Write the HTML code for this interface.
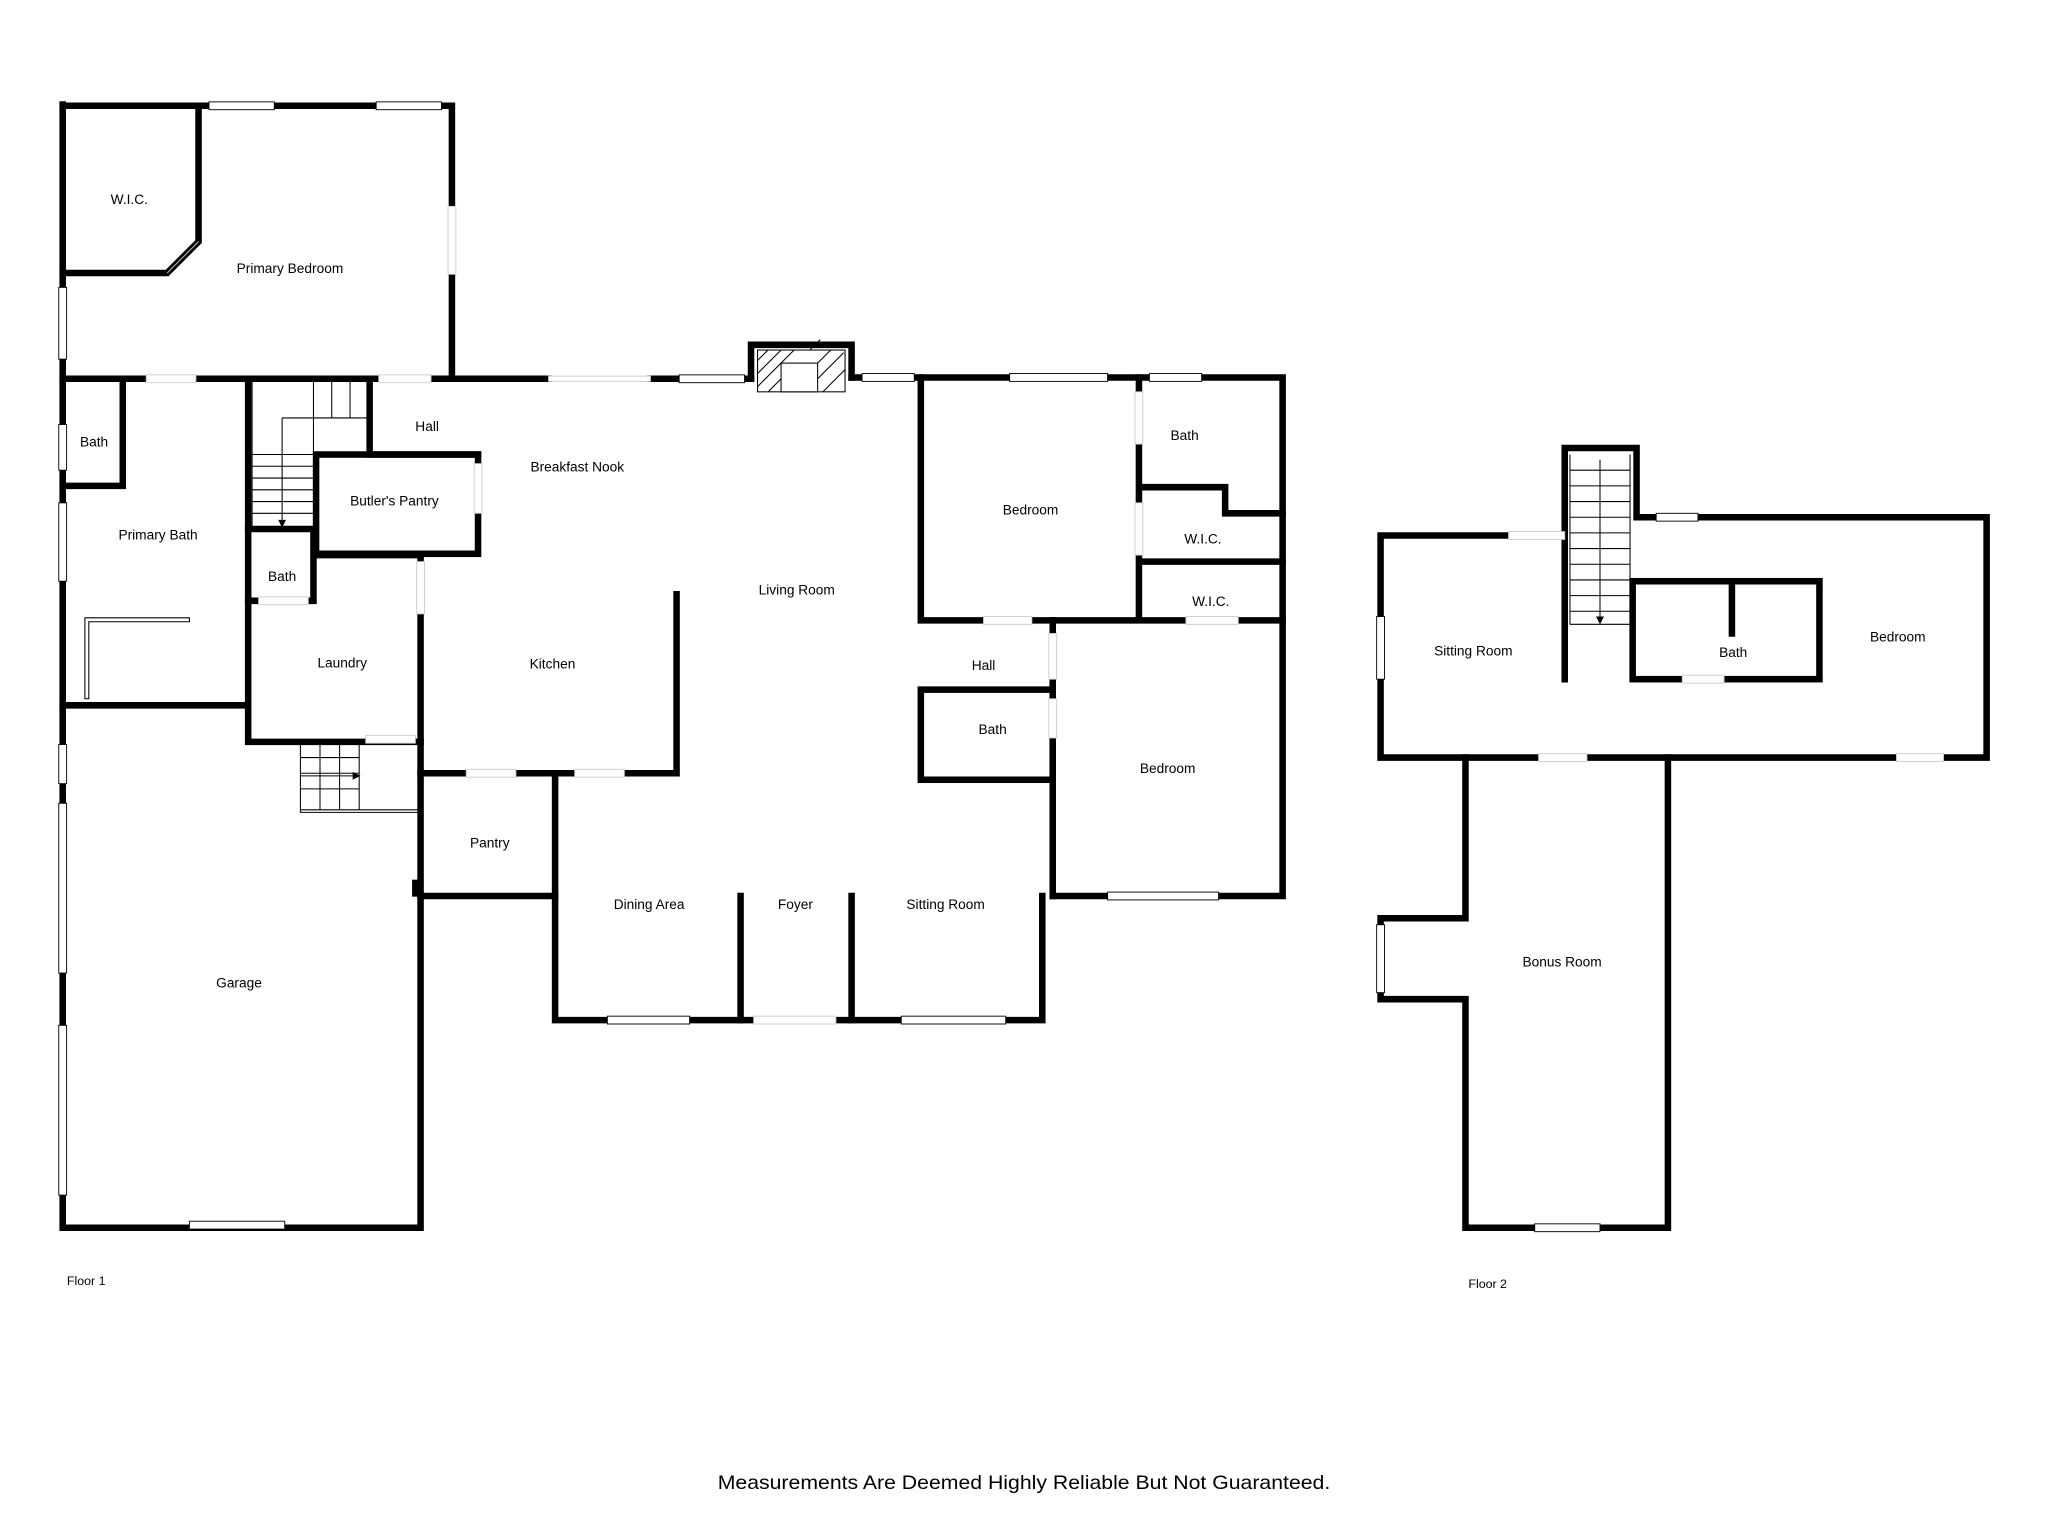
<!DOCTYPE html>
<html><head><meta charset="utf-8"><style>
html,body{margin:0;padding:0;background:#fff;}
svg{display:block;}
text{font-family:"Liberation Sans","DejaVu Sans",sans-serif;font-size:10.5px;fill:#000;text-anchor:middle;}
</style></head><body>
<svg width="2048" height="1536" viewBox="0 0 1568 1176" preserveAspectRatio="none" xmlns="http://www.w3.org/2000/svg">
<g stroke="#000" stroke-width="5" fill="none" stroke-linecap="square">
<path d="M48 80 V940 H322 V686"/>
<path d="M48 81 H346 V288"/>
<path d="M152 84 V185 L128 209 H48"/>
<path d="M48 290 H420 M498 290 H575 M652 289 H982 V686 H806"/>
<path d="M575 290 V264 H652 V289"/>
<path d="M798 686 V781 H425 V592"/>
<path d="M322 686 H425"/>
<path d="M322 592 H518 V455"/>
<path d="M322 425 V686"/>
<path d="M48 540 H190 M190 290 V568 H322"/>
<path d="M94 290 V330 M94 330 V372 H48"/>
<path d="M190 405 H240 V460 H190 M240 425 H322"/>
<rect x="242" y="348" width="124" height="76"/>
<path d="M283 290 V348 H366"/>
<path d="M705 289 V475 H982 M872 289 V475 M872 373 H938 V393 H982 M872 430 H982"/>
<path d="M806 475 V686"/>
<rect x="705" y="528" width="101" height="69"/>
<path d="M567 686 V781 M652 686 V781"/>
<path d="M318 676 V684"/>
<path d="M1155 410 H1057 V580 H1521 V396 H1253 V343 H1198 V520"/>
<rect x="1250" y="445" width="143" height="75"/>
<path d="M1326 445 V485"/>
<path d="M1122 580 V703 H1057 V765 H1122 V940 H1277 V580"/>
</g>
<g fill="#fff" stroke="#000" stroke-width="0.7">
<rect x="160" y="78" width="50" height="6"/><rect x="288" y="78" width="50" height="6"/>
<rect x="343" y="158" width="6" height="52" stroke="#ccc"/>
<rect x="45" y="220" width="6" height="55"/><rect x="45" y="325" width="6" height="35"/><rect x="45" y="385" width="6" height="60"/>
<rect x="45" y="570" width="6" height="30"/><rect x="45" y="615" width="6" height="130"/><rect x="45" y="785" width="6" height="130"/>
<rect x="112" y="287" width="38" height="6" stroke="#ccc"/><rect x="290" y="287" width="40" height="6" stroke="#ccc"/>
<rect x="520" y="287" width="50" height="6"/><rect x="660" y="286" width="40" height="6"/>
<rect x="773" y="286" width="75" height="6"/><rect x="880" y="286" width="40" height="6"/>
<rect x="848" y="683" width="85" height="6"/>
<rect x="465" y="778" width="63" height="6"/><rect x="577" y="778" width="63" height="6" stroke="#ccc"/><rect x="690" y="778" width="80" height="6"/>
<rect x="145" y="935" width="73" height="6"/>
<rect x="357" y="589" width="38" height="6" stroke="#ccc"/><rect x="440" y="589" width="38" height="6" stroke="#ccc"/>
<rect x="753" y="472" width="37" height="6" stroke="#ccc"/><rect x="908" y="472" width="40" height="6" stroke="#ccc"/>
<rect x="869" y="300" width="6" height="40" stroke="#ccc"/><rect x="869" y="385" width="6" height="40" stroke="#ccc"/>
<rect x="803" y="485" width="6" height="35" stroke="#ccc"/><rect x="803" y="535" width="6" height="30" stroke="#ccc"/>
<rect x="319" y="430" width="6" height="40" stroke="#ccc"/><rect x="363" y="355" width="6" height="38" stroke="#ccc"/>
<rect x="198" y="457" width="38" height="6" stroke="#ccc"/><rect x="280" y="563" width="38" height="6" stroke="#ccc"/>
<rect x="1268" y="393" width="32" height="6"/><rect x="1054" y="472" width="6" height="48"/>
<rect x="1155" y="407" width="43" height="6" stroke="#ccc"/>
<rect x="1178" y="577" width="37" height="6" stroke="#ccc"/><rect x="1452" y="577" width="36" height="6" stroke="#ccc"/>
<rect x="1288" y="517" width="32" height="6" stroke="#ccc"/>
<rect x="1054" y="708" width="6" height="52"/><rect x="1175" y="937" width="50" height="6"/>
<rect x="420" y="288" width="78" height="4" stroke="#ccc"/>
</g>
<g stroke="#000" stroke-width="0.8" fill="none">
<rect x="580" y="268" width="67" height="32"/><rect x="598" y="278" width="28" height="22" fill="#fff"/>
<path d="M580 276 L588 268 M580 286 L598 268 M580 296 L608 268 M588 300 L598 290 M620 268 L628 260 M626 278 L636 268 M626 290 L646 270 M630 300 L647 283"/>
<path d="M193 292 V405 M240 292 V348 M193 348 H240 M193 357 H240 M193 366 H240 M193 375 H240 M193 384 H240 M193 393 H240 M216 348 V400 M216 320 H283 M216 320 V348 M240 292 V320 M254 292 V320 M268 292 V320"/>
<path d="M230 568 V622 H320 M230 620 H320 M230 580 H275 M230 592 H275 M230 604 H275 M245 568 V620 M260 568 V620 M275 568 V620 M230 594 H272"/>
<path d="M1202 348 V478 M1248 348 V478 M1202 478 H1248"/>
<path d="M1202 360 H1248 M1202 372 H1248 M1202 384 H1248 M1202 396 H1248 M1202 408 H1248 M1202 420 H1248 M1202 432 H1248 M1202 444 H1248 M1202 456 H1248 M1202 468 H1248 M1225 352 V476"/>
<path d="M128 209 L152 185" stroke="#bbb"/>
<path d="M65 473 H145 V476 H68 V535 H65 Z"/>
</g>
<g fill="#000"><path d="M213 398 L219 398 L216 404 Z"/><path d="M270 591 L276 594 L270 597 Z"/><path d="M1222 472 L1228 472 L1225 478 Z"/></g>
<text x="99" y="156">W.I.C.</text>
<text x="222" y="209">Primary Bedroom</text>
<text x="72" y="342">Bath</text>
<text x="121" y="413">Primary Bath</text>
<text x="327" y="330">Hall</text>
<text x="442" y="361">Breakfast Nook</text>
<text x="302" y="387">Butler's Pantry</text>
<text x="216" y="445">Bath</text>
<text x="262" y="511">Laundry</text>
<text x="423" y="512">Kitchen</text>
<text x="610" y="455">Living Room</text>
<text x="789" y="394">Bedroom</text>
<text x="907" y="337">Bath</text>
<text x="921" y="416">W.I.C.</text>
<text x="927" y="464">W.I.C.</text>
<text x="753" y="513">Hall</text>
<text x="760" y="562">Bath</text>
<text x="894" y="592">Bedroom</text>
<text x="375" y="649">Pantry</text>
<text x="497" y="696">Dining Area</text>
<text x="609" y="696">Foyer</text>
<text x="724" y="696">Sitting Room</text>
<text x="183" y="756">Garage</text>
<text x="66" y="984" style="font-size:9.5px">Floor 1</text>
<text x="1128" y="502">Sitting Room</text>
<text x="1327" y="503">Bath</text>
<text x="1453" y="491">Bedroom</text>
<text x="1196" y="740">Bonus Room</text>
<text x="1139" y="986" style="font-size:9.5px">Floor 2</text>
<text x="784" y="1140" style="font-size:15px" textLength="469" lengthAdjust="spacingAndGlyphs">Measurements Are Deemed Highly Reliable But Not Guaranteed.</text>
</svg>
</body></html>
